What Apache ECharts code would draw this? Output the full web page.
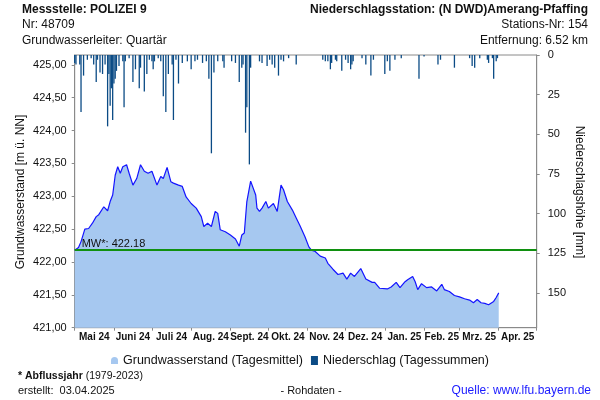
<!DOCTYPE html>
<html><head><meta charset="utf-8">
<script src="https://cdn.jsdelivr.net/npm/echarts@6/dist/echarts.min.js"></script>
<style>html,body{margin:0;padding:0;background:#fff}#c{width:600px;height:400px}</style>
</head><body><div id="c"></div>
<script>
// Groundwater level (daily mean, m ü. NN)
const gwDates = ['2024-05-01','2024-05-04','2024-05-06','2024-05-09','2024-05-12','2024-05-15','2024-05-18','2024-05-20','2024-05-24','2024-05-27','2024-05-29','2024-05-31',
'2024-06-02','2024-06-04','2024-06-06','2024-06-08','2024-06-11','2024-06-13','2024-06-16','2024-06-19','2024-06-22','2024-06-25','2024-06-28',
'2024-07-01','2024-07-05','2024-07-08','2024-07-10','2024-07-13','2024-07-16','2024-07-18','2024-07-22','2024-07-25','2024-07-28',
'2024-08-01','2024-08-05','2024-08-09','2024-08-11','2024-08-14','2024-08-17','2024-08-20','2024-08-22','2024-08-24','2024-08-28',
'2024-09-01','2024-09-05','2024-09-08','2024-09-10','2024-09-12','2024-09-14','2024-09-17','2024-09-21','2024-09-22','2024-09-24','2024-09-26','2024-09-29',
'2024-10-01','2024-10-05','2024-10-08','2024-10-11','2024-10-13','2024-10-16','2024-10-20','2024-10-23','2024-10-26','2024-10-30',
'2024-11-02','2024-11-04','2024-11-07','2024-11-11','2024-11-15','2024-11-17','2024-11-21','2024-11-25','2024-11-29',
'2024-12-02','2024-12-05','2024-12-08','2024-12-13','2024-12-17','2024-12-22','2024-12-24','2024-12-28',
'2025-01-03','2025-01-06','2025-01-10','2025-01-13','2025-01-17','2025-01-19','2025-01-23','2025-01-25','2025-01-27','2025-01-30',
'2025-02-03','2025-02-07','2025-02-11','2025-02-15','2025-02-17','2025-02-21','2025-02-25',
'2025-03-01','2025-03-05','2025-03-09','2025-03-12','2025-03-15','2025-03-18','2025-03-21','2025-03-24','2025-03-28','2025-03-30',
'2025-04-01'];
const gwValues = [422.18,422.22,422.31,422.50,422.51,422.59,422.69,422.72,422.84,422.78,422.92,423.02,
423.32,423.45,423.35,423.45,423.48,423.35,423.17,423.27,423.48,423.38,423.35,
423.38,423.17,423.30,423.27,423.44,423.22,423.20,423.17,423.15,422.99,
422.89,422.82,422.69,422.54,422.59,422.54,422.77,422.74,422.49,422.46,
422.41,422.35,422.24,422.41,422.44,422.92,423.23,423.02,422.82,422.77,422.82,422.92,
422.82,422.89,422.77,423.17,423.10,422.92,422.79,422.67,422.55,422.38,
422.23,422.18,422.16,422.09,422.06,421.98,421.89,421.81,421.83,
421.74,421.83,421.78,421.90,421.74,421.69,421.69,421.60,
421.59,421.62,421.69,421.61,421.70,421.73,421.78,421.70,421.58,421.67,
421.61,421.62,421.56,421.66,421.58,421.55,421.49,
421.47,421.44,421.42,421.38,421.43,421.38,421.37,421.35,421.40,421.46,
421.53];

// Daily precipitation sums (mm)
const rainDates = ['2024-05-01','2024-05-02','2024-05-05','2024-05-06','2024-05-08','2024-05-11','2024-05-14','2024-05-16','2024-05-18','2024-05-19','2024-05-21','2024-05-23','2024-05-25','2024-05-27','2024-05-28','2024-05-29','2024-05-30','2024-05-31',
'2024-06-01','2024-06-02','2024-06-03','2024-06-05','2024-06-08','2024-06-09','2024-06-10','2024-06-13','2024-06-16','2024-06-18','2024-06-21','2024-06-22','2024-06-25','2024-06-27','2024-06-29',
'2024-07-01','2024-07-02','2024-07-03','2024-07-06','2024-07-08','2024-07-10','2024-07-12','2024-07-14','2024-07-17','2024-07-18','2024-07-20','2024-07-22','2024-07-25','2024-07-29',
'2024-08-01','2024-08-04','2024-08-06','2024-08-10','2024-08-13','2024-08-15','2024-08-17','2024-08-19','2024-08-22','2024-08-26','2024-08-27',
'2024-09-02','2024-09-05','2024-09-08','2024-09-10','2024-09-11','2024-09-13','2024-09-14','2024-09-16','2024-09-17','2024-09-24','2024-09-26','2024-09-30',
'2024-10-02','2024-10-04','2024-10-06','2024-10-09','2024-10-11','2024-10-13','2024-10-17','2024-10-23',
'2024-11-13','2024-11-15','2024-11-17','2024-11-19','2024-11-20','2024-11-23','2024-11-24','2024-11-28',
'2024-12-01','2024-12-03','2024-12-05','2024-12-06','2024-12-07','2024-12-14','2024-12-17','2024-12-21','2024-12-23',
'2025-01-01','2025-01-03','2025-01-05','2025-01-09','2025-01-14','2025-01-28',
'2025-02-01','2025-02-12','2025-02-14','2025-02-25',
'2025-03-09','2025-03-11','2025-03-13','2025-03-17','2025-03-23','2025-03-24','2025-03-27','2025-03-28','2025-03-30','2025-03-31'];
const rainValues = [5,6,6,36,13,3,2,6,17,3,11,12,6,45,12,32,21,41,
18,15,10,7,4,33,4,2,17,9,21,8,23,12,3,
4,9,4,2,4,26,36,12,6,41,3,18,5,4,
9,4,3,5,4,15,62,11,4,4,8,
4,5,17,8,6,49,33,69,8,4,5,7,
3,6,8,13,3,4,2,6,
3,4,4,9,5,3,4,10,
3,5,9,6,4,2,6,13,3,
12,4,10,3,2,15,
1,6,3,8,
2,7,8,2,3,5,2,15,4,2];

const monthStarts = ['2024-05-01','2024-06-01','2024-07-01','2024-08-01','2024-09-01','2024-10-01','2024-11-01','2024-12-01','2025-01-01','2025-02-01','2025-03-01','2025-04-01','2025-05-01'];
const monthLabels = ['Mai 24','Juni 24','Juli 24','Aug. 24','Sept. 24','Okt. 24','Nov. 24','Dez. 24','Jan. 25','Feb. 25','Mrz. 25','Apr. 25'];
const meanValue = 422.18;
const meanLabel = 'MW*: ' + meanValue.toFixed(2);

const gwName = 'Grundwasserstand (Tagesmittel)';
const rainName = 'Niederschlag (Tagessummen)';

function ts(s){const p=s.split('-').map(Number);return Date.UTC(p[0],p[1]-1,p[2]);}
const tickVals = monthStarts.map(ts);
const labelVals = tickVals.slice(0,-1).map((v,i)=>(v+tickVals[i+1])/2);
function monthLabelFor(v){
  let best=0,bd=Infinity;
  labelVals.forEach((lv,i)=>{const d=Math.abs(lv-v); if(d<bd){bd=d;best=i;}});
  return monthLabels[best];
}

const FONT = '"Liberation Sans", Arial, sans-serif';
const AXIS_COLOR = '#8a8a8a';
const GW_FILL = '#a6c8f0';
const GW_LINE = '#1414ff';
const RAIN = '#0b4b85';

const chart = echarts.init(document.getElementById('c'), null, {renderer:'canvas'});
chart.setOption({
  animation:false,
  backgroundColor:'#fff',
  textStyle:{fontFamily:FONT},
  grid:{left:74.7, right:63.3, top:55, bottom:72.3, show:true, borderColor:AXIS_COLOR, borderWidth:1, backgroundColor:'transparent'},
  xAxis:{
    type:'value', min:tickVals[0], max:tickVals[tickVals.length-1], scale:true,
    axisLine:{show:true, onZero:false, lineStyle:{color:AXIS_COLOR}},
    axisTick:{show:true, customValues:tickVals, length:3, lineStyle:{color:AXIS_COLOR}},
    axisLabel:{show:true, customValues:labelVals, formatter:(v)=>monthLabelFor(v), fontSize:10, fontWeight:'bold', color:'#111', margin:5, hideOverlap:false, fontFamily:FONT},
    splitLine:{show:false}, minorTick:{show:false}
  },
  yAxis:[{
    type:'value', min:421, max:425.15, interval:0.5, position:'left',
    axisLine:{show:true, lineStyle:{color:AXIS_COLOR}},
    axisTick:{show:true, length:3, lineStyle:{color:AXIS_COLOR}},
    axisLabel:{fontSize:11, color:'#111', margin:8, showMaxLabel:false, formatter:(v)=>v.toFixed(2).replace('.',','), fontFamily:FONT},
    splitLine:{show:false}
  },{
    type:'value', min:0, max:172, interval:25, inverse:true, position:'right',
    axisLine:{show:true, lineStyle:{color:AXIS_COLOR}},
    axisTick:{show:true, length:3, lineStyle:{color:AXIS_COLOR}},
    axisLabel:{fontSize:11, color:'#111', margin:11, showMaxLabel:false, fontFamily:FONT},
    splitLine:{show:false}
  }],
  legend:{
    left:'center', top:349, itemWidth:7, itemHeight:9, itemGap:8,
    textStyle:{fontSize:12.5, color:'#111', fontFamily:FONT},
    data:[
      {name:gwName, icon:'path://M0,10 L0,5 Q0,0 5,0 Q10,0 10,5 L10,10 Z', itemStyle:{color:GW_FILL, borderWidth:0}},
      {name:rainName, icon:'rect', itemStyle:{color:RAIN}}
    ]
  },
  series:[{
    name:gwName, type:'line', xAxisIndex:0, yAxisIndex:0,
    data:gwDates.map((d,i)=>[ts(d), gwValues[i]]),
    showSymbol:false, symbol:'none',
    lineStyle:{color:GW_LINE, width:1.2},
    itemStyle:{color:GW_FILL},
    areaStyle:{color:GW_FILL, opacity:1, origin:'start'},
    z:2,
    markLine:{
      silent:true, symbol:'none', animation:false,
      lineStyle:{color:'#109010', width:2, type:'solid'},
      label:{show:true, position:'insideStartTop', formatter:meanLabel, color:'#111', fontSize:11, distance:[7,1], fontFamily:FONT},
      data:[{yAxis:meanValue}]
    }
  },{
    name:rainName, type:'bar', xAxisIndex:0, yAxisIndex:1,
    data:rainDates.map((d,i)=>[ts(d), rainValues[i]]),
    barWidth:1.3, itemStyle:{color:RAIN}, z:3
  }],
  graphic:[
    {type:'text', x:22, y:10, style:{text:'Messstelle: POLIZEI 9', font:'bold 12px '+FONT, fill:'#111', textAlign:'left', textVerticalAlign:'middle'}},
    {type:'text', x:22, y:25, style:{text:'Nr: 48709', font:'12px '+FONT, fill:'#111', textAlign:'left', textVerticalAlign:'middle'}},
    {type:'text', x:22, y:41, style:{text:'Grundwasserleiter: Quartär', font:'12px '+FONT, fill:'#111', textAlign:'left', textVerticalAlign:'middle'}},
    {type:'text', x:588, y:10, style:{text:'Niederschlagsstation: (N DWD)Amerang-Pfaffing', font:'bold 12px '+FONT, fill:'#111', textAlign:'right', textVerticalAlign:'middle'}},
    {type:'text', x:588, y:25, style:{text:'Stations-Nr: 154', font:'12px '+FONT, fill:'#111', textAlign:'right', textVerticalAlign:'middle'}},
    {type:'text', x:588, y:41, style:{text:'Entfernung: 6.52 km', font:'12px '+FONT, fill:'#111', textAlign:'right', textVerticalAlign:'middle'}},
    {type:'text', x:21, y:192, rotation:Math.PI/2, style:{text:'Grundwasserstand [m ü. NN]', font:'12px '+FONT, fill:'#111', textAlign:'center', textVerticalAlign:'middle'}},
    {type:'text', x:579, y:192, rotation:-Math.PI/2, style:{text:'Niederschlagshöhe [mm]', font:'12px '+FONT, fill:'#111', textAlign:'center', textVerticalAlign:'middle'}},
    {type:'text', x:18, y:376, style:{text:'{b|* Abflussjahr} (1979-2023)', font:'10.5px '+FONT, fill:'#111', textAlign:'left', textVerticalAlign:'middle', rich:{b:{fontWeight:'bold', fontSize:10.5, fontFamily:FONT}}}},
    {type:'text', x:18, y:391, style:{text:'erstellt:  03.04.2025', font:'11px '+FONT, fill:'#111', textAlign:'left', textVerticalAlign:'middle'}},
    {type:'text', x:311, y:391, style:{text:'- Rohdaten -', font:'11px '+FONT, fill:'#111', textAlign:'center', textVerticalAlign:'middle'}},
    {type:'text', x:591, y:391, style:{text:'Quelle: www.lfu.bayern.de', font:'12px '+FONT, fill:'#1a1aff', textAlign:'right', textVerticalAlign:'middle'}}
  ]
});
</script>
</body></html>
